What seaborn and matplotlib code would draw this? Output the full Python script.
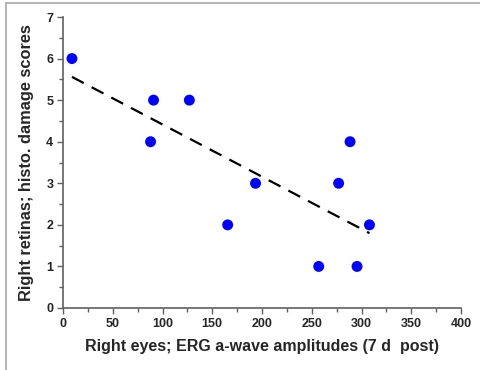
import matplotlib
matplotlib.use("Agg")
import matplotlib.pyplot as plt
import seaborn as sns
import pandas as pd
from matplotlib.ticker import MultipleLocator
from matplotlib.lines import Line2D

erg_amplitude = [9, 91, 127, 88, 165.5, 193.5, 257, 277, 288.5, 295.5, 308]
damage_score = [6, 5, 5, 4, 2, 3, 1, 3, 4, 1, 2]
x_ticks = [0, 50, 100, 150, 200, 250, 300, 350, 400]
y_ticks = [0, 1, 2, 3, 4, 5, 6, 7]

df = pd.DataFrame({"erg": erg_amplitude, "score": damage_score})

sns.set_style("white")
plt.rcParams["font.family"] = ["Liberation Sans", "DejaVu Sans"]

fig = plt.figure(figsize=(4.8, 3.7), dpi=100)
ax = fig.add_axes([63 / 480, 62 / 370, 398 / 480, 291 / 370])

sns.regplot(data=df, x="erg", y="score", ax=ax, ci=None,
            scatter_kws=dict(s=62, color="#0000FF", edgecolor="none", zorder=3, alpha=1),
            line_kws=dict(color="black", lw=1.6, dashes=(6, 4), zorder=2))

ax.set_xlim(0, 400)
ax.set_ylim(0, 7)
ax.set_xticks(x_ticks)
ax.set_yticks(y_ticks)
ax.xaxis.set_minor_locator(MultipleLocator(25))
ax.yaxis.set_minor_locator(MultipleLocator(0.5))
ax.set_xticklabels([str(t) for t in x_ticks], fontweight="bold", fontsize=9)
ax.set_yticklabels([str(t) for t in y_ticks], fontweight="bold", fontsize=9)
ax.tick_params(which="both", direction="out", color="#606060", width=1)
ax.tick_params(which="major", length=4, pad=3)
ax.tick_params(which="minor", length=3)
ax.tick_params(axis="x", which="both", bottom=True)
ax.tick_params(axis="y", which="both", left=True)

for s in ["top", "right"]:
    ax.spines[s].set_visible(False)
for s in ["left", "bottom"]:
    ax.spines[s].set_color("#606060")
    ax.spines[s].set_linewidth(1.2)

ax.set_xlabel("Right eyes; ERG a-wave amplitudes (7 d  post)", fontweight="bold", fontsize=11.5, labelpad=7)
ax.set_ylabel("Right retinas; histo. damage scores", fontweight="bold", fontsize=11.8, labelpad=9)

# frame: only top and left edges are visible
fig.lines.append(Line2D([5.5 / 480, 5.5 / 480], [0, 1 - 3 / 370], transform=fig.transFigure,
                        color="#A8A8A8", lw=1.2))
fig.lines.append(Line2D([5.5 / 480, 1], [1 - 3 / 370, 1 - 3 / 370], transform=fig.transFigure,
                        color="#A8A8A8", lw=1.2))

fig.savefig("out.png", dpi=100)
